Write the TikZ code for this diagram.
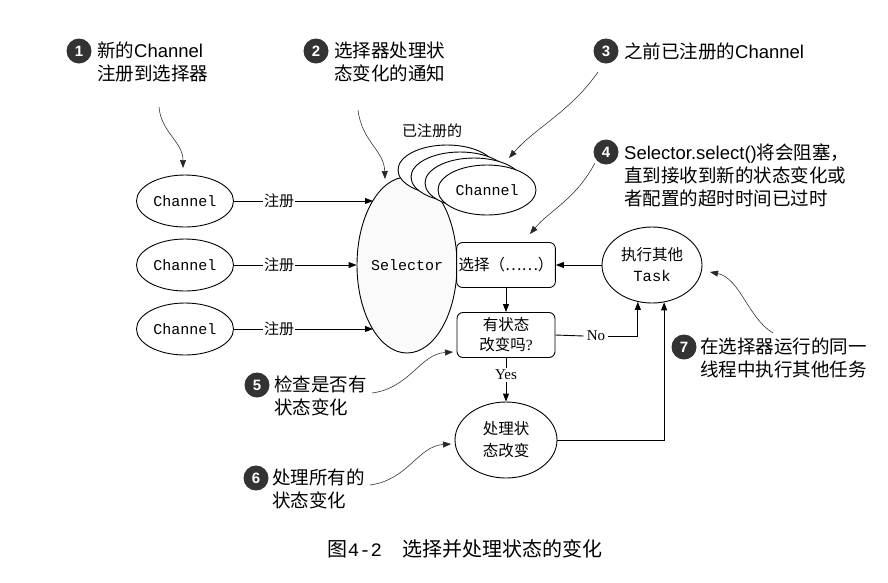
\documentclass[tikz,border=0pt]{standalone}
\usepackage{fontspec}
\usetikzlibrary{arrows.meta,shapes.geometric}
\newfontfamily\cjk{Noto Sans CJK SC}
\newfontfamily\lsans{Liberation Sans}
\newfontfamily\lmono{Liberation Mono}
\newfontfamily\lserif{Liberation Serif}
\begin{document}
\begin{tikzpicture}[x=1pt,y=-1pt,
  >={Triangle[length=8pt,width=6pt]},
  flow/.style={draw=black,line width=0.9pt},
  oval/.style={ellipse,draw=black,line width=0.9pt,fill=white,inner sep=0pt},
  chan/.style={oval,minimum width=97pt,minimum height=52pt,font=\lmono\fontsize{15}{17}\selectfont},
  stepbox/.style={draw=black,line width=0.9pt,rounded corners=6pt,fill=white,
    minimum width=98pt,minimum height=45pt,inner sep=2pt,align=center,
    font=\cjk\fontsize{15.5}{20}\selectfont},
  tag/.style={font=\cjk\fontsize{15}{18}\selectfont,inner sep=1pt},
  numc/.style={circle,fill=black!80,text=white,inner sep=0pt,minimum size=25pt,
    font=\lsans\bfseries\fontsize{15}{15}\selectfont},
  note/.style={anchor=west,align=left,inner sep=0pt,
    font=\lsans\fontsize{18.5}{23}\selectfont},
  pointer/.style={draw=black!85,line width=0.55pt,-{Triangle[length=8pt,width=6pt]}}
]
\useasboundingbox (0,0) rectangle (888,582);

% --- channels waiting for registration ---
\node[chan] (ch1) at (185,201) {Channel};
\node[chan] (ch2) at (185,265) {Channel};
\node[chan] (ch3) at (185,329) {Channel};

% --- the selector ---
\node[oval,fill=black!2,minimum width=100pt,minimum height=176pt] (sel) at (407,265) {};
\node[font=\lmono\fontsize{15}{17}\selectfont] (seltext) at (sel.center) {Selector};

% --- stack of channels already registered ---
\node[chan,minimum width=98pt,minimum height=50pt] (reg1) at (447,170) {};
\node[chan,minimum width=98pt,minimum height=50pt] (reg2) at (460,177) {};
\node[chan,minimum width=98pt,minimum height=50pt] (reg3) at (474,183) {};
\node[chan,minimum width=98pt,minimum height=50pt] (reg4) at (487,190) {Channel};
\node[tag] (regtxt) at (432,131) {已注册的};

% --- registration links ---
\node[tag] (r1) at (279,201) {注册};
\node[tag] (r2) at (279,265) {注册};
\node[tag] (r3) at (279,329) {注册};
\draw[flow] (ch1.east) -- (r1.west);
\draw[flow] (ch2.east) -- (r2.west);
\draw[flow] (ch3.east) -- (r3.west);
\draw[flow,->] (r1.east) -- (r1.east -| 373,0);
\draw[flow,->] (r2.east) -- (sel.west);
\draw[flow,->] (r3.east) -- (r3.east -| 373,0);

% --- selection loop ---
\node[stepbox] (choose) at (506,265) {选择（……）};
\node[stepbox] (check) at (506,335) {有状态\\改变吗{\lserif ?}};
\node[oval,minimum width=100pt,minimum height=76pt,align=center,
  font=\cjk\fontsize{15.5}{21}\selectfont] (task) at (652,265)
  {执行其他\\{\lmono Task}};
\node[oval,minimum width=102pt,minimum height=76pt,align=center,
  font=\cjk\fontsize{15.5}{22}\selectfont] (handle) at (506,440)
  {处理状\\态改变};
\node[font=\lserif\fontsize{15}{17}\selectfont,inner sep=2pt] (yes) at (506,375) {Yes};
\node[font=\lserif\fontsize{15}{17}\selectfont,inner sep=3pt] (no) at (596,336) {No};

\draw[flow,->] (task.west) -- (choose.east);
\draw[flow,->] (choose.south) -- (check.north);
\draw[flow] (check.south) -- (yes.north);
\draw[flow,->] (yes.south) -- (handle.north);
\draw[flow] (check.east) -- (no.west);
\draw[flow,->] (no.east) -| (task.249);
\draw[flow,->] (handle.east) -| (task.288);

% --- numbered notes ---
\node[numc] (n1) at (79,51) {1};
\node[note] (t1) at (97,62) {{\cjk 新的}Channel\\{\cjk 注册到选择器}};
\node[numc] (n2) at (316,51) {2};
\node[note] (t2) at (334,62) {{\cjk 选择器处理状}\\{\cjk 态变化的通知}};
\node[numc] (n3) at (606,51) {3};
\node[note] (t3) at (624,51) {{\cjk 之前已注册的}Channel};
\node[numc] (n4) at (606,152) {4};
\node[note] (t4) at (624,175) {Selector.select(){\cjk 将会阻塞，}\\{\cjk 直到接收到新的状态变化或}\\{\cjk 者配置的超时时间已过时}};
\node[numc] (n5) at (257,385) {5};
\node[note] (t5) at (274,396) {{\cjk 检查是否有}\\{\cjk 状态变化}};
\node[numc] (n6) at (256,478) {6};
\node[note] (t6) at (272,489) {{\cjk 处理所有的}\\{\cjk 状态变化}};
\node[numc] (n7) at (684,347) {7};
\node[note] (t7) at (700,358) {{\cjk 在选择器运行的同一}\\{\cjk 线程中执行其他任务}};

% --- note pointers ---
\coordinate (p1a) at (159,107); \coordinate (p1b) at (183,168);
\coordinate (p2a) at (358,110); \coordinate (p2b) at (385,179);
\coordinate (p3a) at (598,72);  \coordinate (p3b) at (509,158);
\coordinate (p4a) at (595,163); \coordinate (p4b) at (530,234);
\coordinate (p5a) at (372,393); \coordinate (p5b) at (453,352);
\coordinate (p6a) at (370,485); \coordinate (p6b) at (451,444);
\coordinate (p7a) at (773,333); \coordinate (p7b) at (710,272);
\draw[pointer] (p1a) .. controls (161,132) and (183,142) .. (p1b);
\draw[pointer] (p2a) .. controls (362,142) and (384,150) .. (p2b);
\draw[pointer] (p3a) .. controls (570,112) and (535,128) .. (p3b);
\draw[pointer] (p4a) .. controls (575,200) and (550,210) .. (p4b);
\draw[pointer] (p5a) .. controls (410,388) and (420,354) .. (p5b);
\draw[pointer] (p6a) .. controls (408,480) and (418,446) .. (p6b);
\draw[pointer] (p7a) .. controls (748,318) and (740,278) .. (p7b);

% --- caption ---
\node[font=\cjk\fontsize{20}{22}\selectfont] (cap) at (465,549)
  {图{\lmono\fontsize{19}{22}\selectfont 4-2}　选择并处理状态的变化};
\end{tikzpicture}
\end{document}
